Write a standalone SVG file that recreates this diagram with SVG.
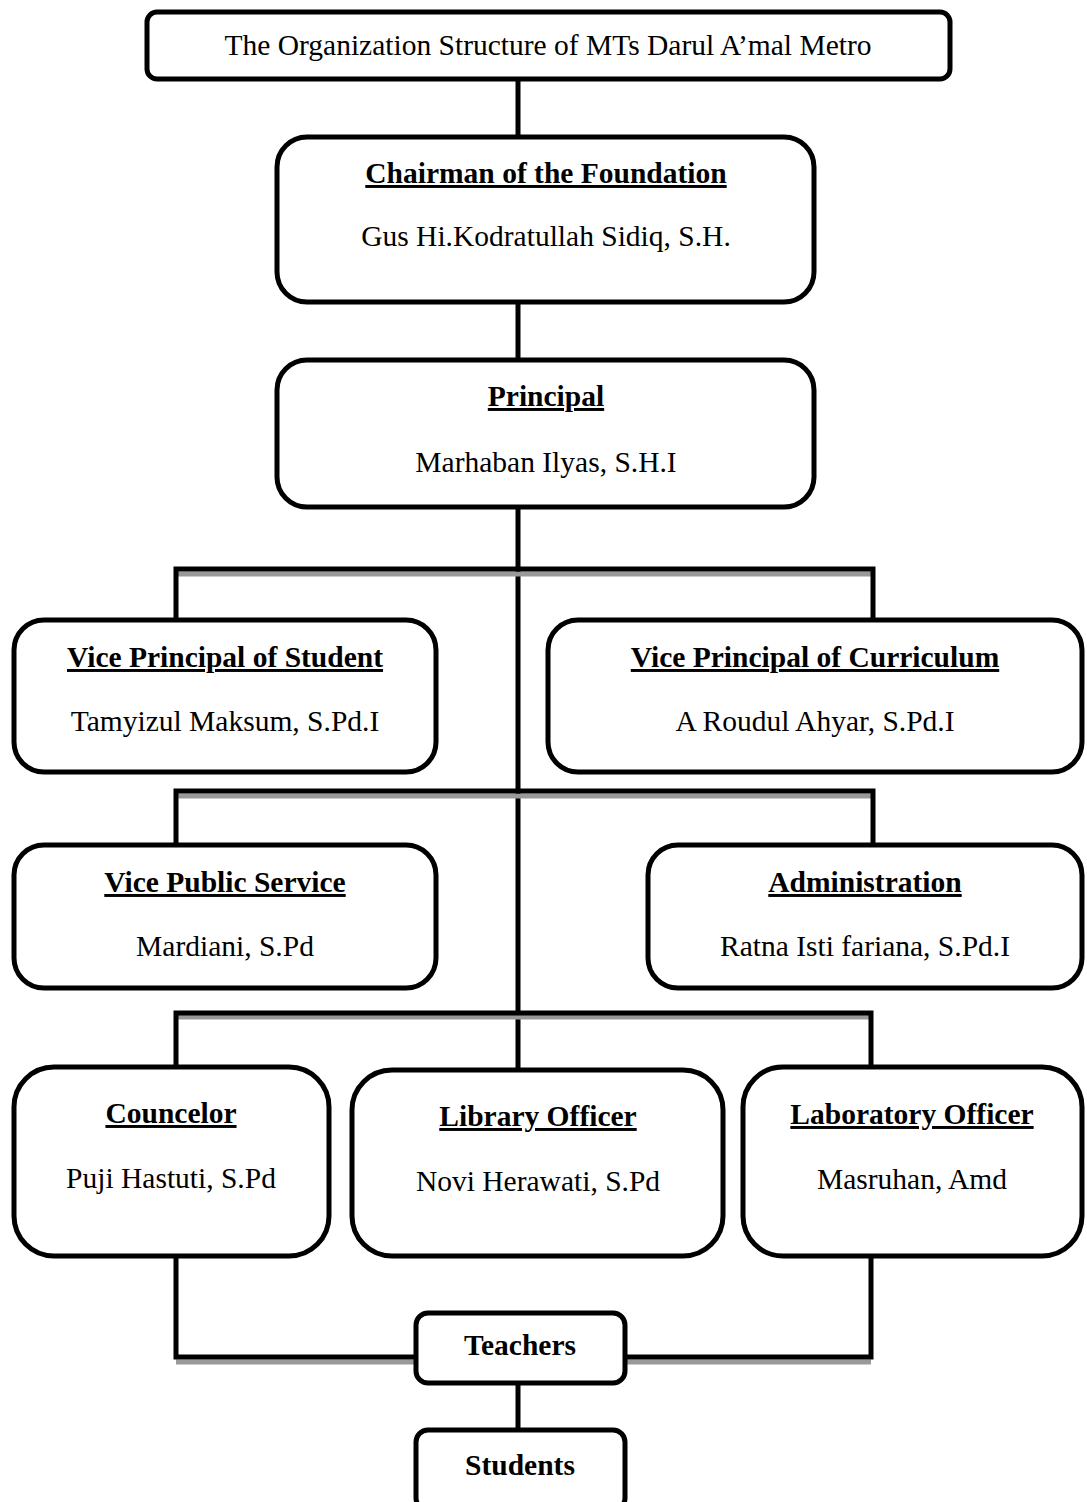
<svg xmlns="http://www.w3.org/2000/svg" width="1087" height="1502" viewBox="0 0 1087 1502">
<style>
.box{fill:#fff;stroke:#000;stroke-width:5}
.ln{fill:none;stroke:#000;stroke-width:5}
.sh{fill:none;stroke:#999;stroke-width:5}
.t{font-family:"Liberation Serif","Times New Roman",serif;font-size:29.5px;text-anchor:middle;fill:#000}
.b{font-weight:bold;text-decoration:underline}
.bb{font-weight:bold}
</style>
<rect width="1087" height="1502" fill="#fff"/>
<g id="connectors">
<line class="ln" x1="518" y1="79" x2="518" y2="138"/>
<line class="ln" x1="518" y1="302" x2="518" y2="360"/>
<line class="ln" x1="518" y1="507" x2="518" y2="1070"/>
<line class="sh" x1="176" y1="574" x2="873" y2="574"/>
<path class="ln" d="M176 620 V569 H873 V620"/>
<line class="sh" x1="176" y1="796" x2="873" y2="796"/>
<path class="ln" d="M176 845 V791 H873 V845"/>
<line class="sh" x1="176" y1="1017" x2="871" y2="1017"/>
<path class="ln" d="M176 1067 V1013 H871 V1067"/>
<line class="sh" x1="176" y1="1362" x2="871" y2="1362"/>
<path class="ln" d="M176 1256 V1357 H416"/>
<path class="ln" d="M871 1256 V1357 H625"/>
<line class="ln" x1="518" y1="1383" x2="518" y2="1430"/>
</g>
<g id="title">
<rect class="box" x="147" y="12" width="803" height="67" rx="10"/>
<text class="t" x="548" y="55">The Organization Structure of MTs Darul A’mal Metro</text>
</g>
<g id="chairman">
<rect class="box" x="277" y="137" width="537" height="165" rx="30"/>
<text class="t b" x="546" y="183">Chairman of the Foundation</text>
<text class="t" x="546" y="246">Gus Hi.Kodratullah Sidiq, S.H.</text>
</g>
<g id="principal">
<rect class="box" x="277" y="360" width="537" height="147" rx="30"/>
<text class="t b" x="546" y="406">Principal</text>
<text class="t" x="546" y="472">Marhaban Ilyas, S.H.I</text>
</g>
<g id="vp-student">
<rect class="box" x="14" y="620" width="422" height="152" rx="30"/>
<text class="t b" x="225" y="667">Vice Principal of Student</text>
<text class="t" x="225" y="731">Tamyizul Maksum, S.Pd.I</text>
</g>
<g id="vp-curriculum">
<rect class="box" x="548" y="620" width="534" height="152" rx="30"/>
<text class="t b" x="815" y="667">Vice Principal of Curriculum</text>
<text class="t" x="815" y="731">A Roudul Ahyar, S.Pd.I</text>
</g>
<g id="vice-public">
<rect class="box" x="14" y="845" width="422" height="143" rx="30"/>
<text class="t b" x="225" y="892">Vice Public Service</text>
<text class="t" x="225" y="956">Mardiani, S.Pd</text>
</g>
<g id="administration">
<rect class="box" x="648" y="845" width="434" height="143" rx="30"/>
<text class="t b" x="865" y="892">Administration</text>
<text class="t" x="865" y="956">Ratna Isti fariana, S.Pd.I</text>
</g>
<g id="councelor">
<rect class="box" x="14" y="1067" width="315" height="189" rx="40"/>
<text class="t b" x="171" y="1123">Councelor</text>
<text class="t" x="171" y="1188">Puji Hastuti, S.Pd</text>
</g>
<g id="library">
<rect class="box" x="352" y="1070" width="371" height="186" rx="40"/>
<text class="t b" x="538" y="1126">Library Officer</text>
<text class="t" x="538" y="1191">Novi Herawati, S.Pd</text>
</g>
<g id="laboratory">
<rect class="box" x="743" y="1067" width="339" height="189" rx="40"/>
<text class="t b" x="912" y="1124">Laboratory Officer</text>
<text class="t" x="912" y="1189">Masruhan, Amd</text>
</g>
<g id="teachers">
<rect class="box" x="416" y="1313" width="209" height="70" rx="12"/>
<text class="t bb" x="520" y="1355">Teachers</text>
</g>
<g id="students">
<rect class="box" x="416" y="1430" width="209" height="80" rx="12"/>
<text class="t bb" x="520" y="1475">Students</text>
</g>
</svg>
